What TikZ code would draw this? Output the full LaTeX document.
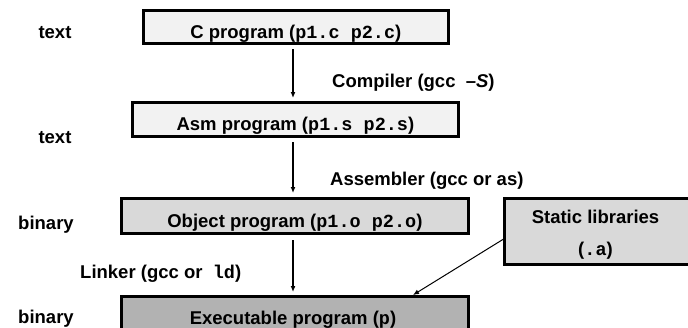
\documentclass[tikz,border=0pt]{standalone}
\usepackage{fontspec}
\setmainfont{Liberation Sans}
\setmonofont{Liberation Mono}
\usetikzlibrary{arrows.meta}
\begin{document}
\begin{tikzpicture}[x=1pt,y=-1pt,
  every node/.style={font=\bfseries\fontsize{18.5}{21}\selectfont},
  prog/.style={draw=black,line width=2.8pt,inner sep=0pt,anchor=north west,text height=23pt,text depth=0pt},
  side/.style={anchor=base},
  arr/.style={line width=1.8pt,-{Latex[length=6pt,width=5pt]}},
  lbl/.style={anchor=base west,inner sep=0pt}]
\useasboundingbox (0,0) rectangle (688,327);
\node[prog,fill=black!5,minimum width=305pt,minimum height=33pt] (c) at (142,9) {C program (\texttt{p1.c p2.c})};
\node[prog,fill=black!5,minimum width=326pt,minimum height=34pt] (asm) at (131,101) {Asm program (\texttt{p1.s p2.s})};
\node[prog,fill=black!15,minimum width=347pt,minimum height=35pt] (obj) at (120,197) {Object program (\texttt{p1.o p2.o})};
\node[prog,fill=black!15,minimum width=185pt,minimum height=66pt] (lib) at (503,197) {};
\node[anchor=base] (libt1) at (595.5,223) {Static libraries};
\node[anchor=base] (libt2) at (595.5,255) {(\texttt{.a})};
\node[prog,fill=black!30,minimum width=347pt,minimum height=44pt] (exe) at (120,295) {};
\node[anchor=base] (exet) at (293,324) {Executable program (\texttt{p})};
\node[side] (t1) at (55,38) {text};
\node[side] (t2) at (55,143) {text};
\node[side] (b1) at (46,229) {binary};
\node[side] (b2) at (46,323) {binary};
\coordinate (a1s) at (293,49); \coordinate (a1e) at (293,98);
\coordinate (a2s) at (293,142); \coordinate (a2e) at (293,193);
\coordinate (a3s) at (293,240); \coordinate (a3e) at (293,292);
\draw[arr] (a1s) -- (a1e);
\draw[arr] (a2s) -- (a2e);
\draw[arr] (a3s) -- (a3e);
\coordinate (ls) at (lib.west);
\coordinate (le) at (413,295);
\draw[line width=1pt,-{Latex[length=6pt,width=5pt]}] ([yshift=-8pt]ls) -- (le);
\node[lbl] (comp) at (332,87) {Compiler (gcc~~--\textit{S})};
\node[lbl] (asmb) at (330,185) {Assembler (gcc or as)};
\node[lbl] (link) at (80,278) {Linker (gcc or~~\texttt{ld})};
\end{tikzpicture}
\end{document}
